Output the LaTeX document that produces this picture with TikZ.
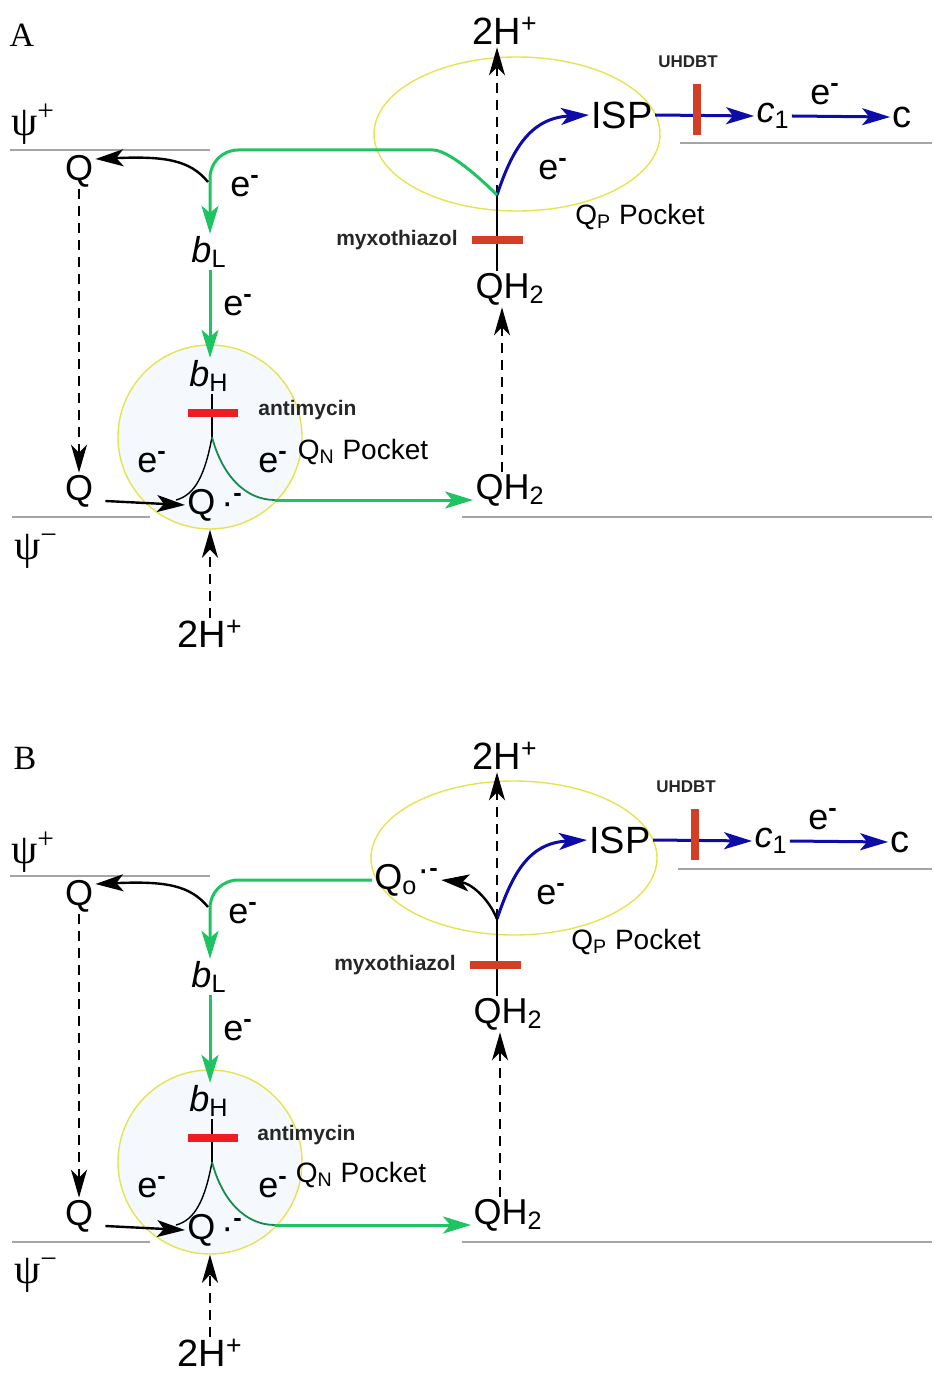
\documentclass[tikz,border=0pt]{standalone}
\usepackage{fontspec}
\setmainfont{Liberation Sans}
\newfontfamily\panelfont{Liberation Serif}
\usetikzlibrary{shapes.geometric, arrows.meta, calc}
\definecolor{ElecGreen}{RGB}{30,196,98}
\definecolor{DeepGreen}{RGB}{22,140,76}
\definecolor{ElecBlue}{RGB}{12,12,168}
\definecolor{AntiRed}{RGB}{236,30,36}
\definecolor{MyxoRed}{RGB}{212,62,36}
\definecolor{PocketYel}{RGB}{228,228,80}
\definecolor{PocketFill}{RGB}{245,248,252}
\definecolor{MembGray}{RGB}{165,165,165}
\newcommand{\supmin}{\textsuperscript{\bfseries -}}

\begin{document}
\begin{tikzpicture}[x=0.5pt, y=-0.5pt,
    lbl/.style={font=\fontsize{18}{20}\selectfont, inner sep=1pt},
    biglbl/.style={font=\fontsize{19}{21}\selectfont, inner sep=1pt},
    pocket/.style={font=\fontsize{14}{16}\selectfont, inner sep=1pt},
    drug/.style={font=\bfseries\fontsize{10.5}{12}\selectfont,
                 text=black!85, inner sep=1pt},
    psi/.style={font=\panelfont\fontsize{21}{23}\selectfont, inner sep=1pt},
    memb/.style={draw=MembGray, line width=0.8pt},
    qpbox/.style={ellipse, draw=PocketYel, line width=0.7pt,
                  minimum width=143pt, minimum height=77pt},
    qnbox/.style={circle, draw=PocketYel, fill=PocketFill,
                  line width=0.7pt, minimum size=92pt},
    karr/.style={-{Stealth[length=14pt, width=8.5pt, inset=3.5pt]},
                 draw=black, line width=1.2pt},
    darr/.style={-{Stealth[length=14pt, width=8pt, inset=4pt]},
                 draw=black, line width=1.1pt, dash pattern=on 5pt off 3.5pt},
    garr/.style={-{Stealth[length=14pt, width=8.5pt, inset=3.5pt]},
                 draw=ElecGreen, line width=1.5pt},
    barr/.style={-{Stealth[length=14pt, width=8.5pt, inset=3.5pt]},
                 draw=ElecBlue, line width=1.5pt},
    gln/.style={draw=DeepGreen, line width=0.9pt},
    thinln/.style={draw=black, line width=0.7pt},
    antibar/.style={draw=AntiRed, line width=4pt},
    myxobar/.style={draw=MyxoRed, line width=4pt}
  ]
  \useasboundingbox (0,0) rectangle (934,1379);

  % ---------------- panel A ----------------
  \begin{scope}
    \node[font=\panelfont\fontsize{17}{19}\selectfont] (panA) at (22,35) {A};
    \node[psi] (psiPA) at (33,124) {ψ\textsuperscript{+}};
    \node[psi] (psiMA) at (36,551) {ψ\textsuperscript{−}};
    \draw[memb] (10,150) -- (210,150);
    \draw[memb] (680,143) -- (932,143);
    \draw[memb] (12,517) -- (150,517);
    \draw[memb] (462,517) -- (932,517);

    \node[qpbox] (qpkA) at (517,134) {};
    \node[qnbox] (qnkA) at (210,437) {};
    \coordinate (vpA) at (497,195);
    \coordinate (vnA) at (212,437);
    \coordinate (ksA) at (208,182);
    \coordinate (tnA) at (275,500);

    \node[lbl] (QtA) at (79,171) {Q};
    \node[lbl] (QbA) at (79,491) {Q};
    \node[lbl, anchor=west] (QrA) at (185,505) {Q\,·\supmin};
    \node[lbl] (eLA) at (245,186) {e\supmin};
    \node[lbl] (bLA) at (209,252) {\textit{b}\textsubscript{L}};
    \node[lbl] (eMA) at (238,305) {e\supmin};
    \node[lbl] (bHA) at (209,376) {\textit{b}\textsubscript{H}};
    \node[drug, anchor=west] (antiA) at (256,410) {antimycin};
    \node[lbl] (eNlA) at (152,462) {e\supmin};
    \node[lbl] (eNrA) at (273,462) {e\supmin};
    \node[pocket] (qnA) at (363,452) {Q\textsubscript{N} Pocket};
    \node[biglbl] (hbA) at (210,634) {2H\textsuperscript{+}};
    \node[lbl] (QHlA) at (510,490) {QH\textsubscript{2}};
    \node[lbl] (QHuA) at (510,289) {QH\textsubscript{2}};
    \node[drug, anchor=east] (myxoA) at (460,240) {myxothiazol};
    \node[biglbl] (htA) at (505,31) {2H\textsuperscript{+}};
    \node[biglbl] (ispA) at (622,115) {ISP};
    \node[lbl] (ePA) at (553,169) {e\supmin};
    \node[pocket] (qpA) at (640,217) {Q\textsubscript{P} Pocket};
    \node[drug, font=\bfseries\fontsize{8.5}{10}\selectfont] (uhA) at (688,62) {UHDBT};
    \node[lbl] (c1A) at (773,116) {\textit{c}\textsubscript{1}};
    \node[lbl] (eCA) at (825,94) {e\supmin};
    \node[biglbl] (cA) at (902,117) {c};

    % Qp site
    \draw[thinln] (QHuA.north -| vpA) -- (vpA);
    \draw[myxobar] (472,240) -- (523,240);
    \draw[darr] (vpA) -- (htA.south -| vpA);
    \draw[barr] (vpA) .. controls (512,150) and (530,118) .. (ispA.west);
    \draw[garr, rounded corners=14pt] (vpA) .. controls (470,168) and (445,150)
          .. (405,150) -- (210,150) -- (bLA.north -| 210,0);
    \draw[karr] (ksA) .. controls (190,160) and (165,156) .. ([yshift=6pt]QtA.east);
    \draw[darr] (QtA) -- (QbA);
    \draw[karr] ([shift={(10,10)}]QbA.east) -- (QrA.west);
    % Qn site
    \draw[garr] (bLA.south -| 210,0) -- (bHA.north -| 210,0);
    \draw[thinln] (bHA.south -| vnA) -- (vnA);
    \draw[antibar] (188,413) -- (238,413);
    \draw[thinln] (vnA) .. controls (205,475) and (195,495) .. (176,500);
    \draw[gln] (vnA) .. controls (222,475) and (245,500) .. (tnA);
    \draw[garr] (tnA) -- ([yshift=-5pt]QHlA.west);
    \draw[darr] (hbA.north) -- (qnkA.south);
    \draw[darr] ([xshift=-4pt]QHlA.north) -- ([xshift=-4pt]QHuA.south);
    % cytochromes
    \draw[barr] (ispA.east) -- (c1A.west);
    \draw[myxobar] (697,84) -- (697,135);
    \draw[barr] (c1A.east) -- (cA.west);
  \end{scope}

  % ---------------- panel B ----------------
  \begin{scope}[shift={(0,725)}]
    \node[font=\panelfont\fontsize{17}{19}\selectfont] (panB) at (25,33) {B};
    \node[psi] (psiPB) at (33,127) {ψ\textsuperscript{+}};
    \node[psi] (psiMB) at (36,550) {ψ\textsuperscript{−}};
    \draw[memb] (10,151) -- (210,151);
    \draw[memb] (678,144) -- (932,144);
    \draw[memb] (12,517) -- (150,517);
    \draw[memb] (462,517) -- (932,517);

    \node[qpbox] (qpkB) at (514,133) {};
    \node[qnbox] (qnkB) at (210,437) {};
    \coordinate (vpB) at (497,194);
    \coordinate (vnB) at (212,437);
    \coordinate (ksB) at (208,182);
    \coordinate (tnB) at (275,500);

    \node[lbl] (QtB) at (79,171) {Q};
    \node[lbl] (QbB) at (79,491) {Q};
    \node[lbl, anchor=west] (QrB) at (185,505) {Q\,·\supmin};
    \node[lbl] (eLB) at (243,188) {e\supmin};
    \node[lbl] (bLB) at (209,252) {\textit{b}\textsubscript{L}};
    \node[lbl] (eMB) at (238,305) {e\supmin};
    \node[lbl] (bHB) at (209,376) {\textit{b}\textsubscript{H}};
    \node[drug, anchor=west] (antiB) at (255,410) {antimycin};
    \node[lbl] (eNlB) at (152,462) {e\supmin};
    \node[lbl] (eNrB) at (273,462) {e\supmin};
    \node[pocket] (qnB) at (361,450) {Q\textsubscript{N} Pocket};
    \node[biglbl] (hbB) at (210,628) {2H\textsuperscript{+}};
    \node[lbl] (QHlB) at (508,490) {QH\textsubscript{2}};
    \node[lbl] (QHuB) at (508,289) {QH\textsubscript{2}};
    \node[drug, anchor=east] (myxoB) at (458,240) {myxothiazol};
    \node[biglbl] (htB) at (505,31) {2H\textsuperscript{+}};
    \node[biglbl] (ispB) at (620,115) {ISP};
    \node[lbl] (ePB) at (551,169) {e\supmin};
    \node[pocket] (qpB) at (636,217) {Q\textsubscript{P} Pocket};
    \node[drug, font=\bfseries\fontsize{8.5}{10}\selectfont] (uhB) at (686,62) {UHDBT};
    \node[lbl] (c1B) at (771,116) {\textit{c}\textsubscript{1}};
    \node[lbl] (eCB) at (823,94) {e\supmin};
    \node[biglbl] (cB) at (900,117) {c};
    \node[lbl, anchor=west] (QoB) at (372,155)
          {Q\textsubscript{o}\raisebox{4pt}{·}\supmin};

    % Qp site
    \draw[thinln] (QHuB.north -| vpB) -- (vpB);
    \draw[myxobar] (470,240) -- (521,240);
    \draw[darr] (vpB) -- (htB.south -| vpB);
    \draw[barr] (vpB) .. controls (512,150) and (528,118) .. (ispB.west);
    \draw[karr] (vpB) .. controls (488,172) and (470,158) .. (QoB.east);
    \draw[garr, rounded corners=14pt] (QoB.west) -- (QoB.west -| 210,0)
          -- (bLB.north -| 210,0);
    \draw[karr] (ksB) .. controls (190,160) and (165,156) .. ([yshift=6pt]QtB.east);
    \draw[darr] (QtB) -- (QbB);
    \draw[karr] ([shift={(10,10)}]QbB.east) -- (QrB.west);
    % Qn site
    \draw[garr] (bLB.south -| 210,0) -- (bHB.north -| 210,0);
    \draw[thinln] (bHB.south -| vnB) -- (vnB);
    \draw[antibar] (188,413) -- (238,413);
    \draw[thinln] (vnB) .. controls (205,475) and (195,495) .. (176,500);
    \draw[gln] (vnB) .. controls (222,475) and (245,500) .. (tnB);
    \draw[garr] (tnB) -- ([yshift=-5pt]QHlB.west);
    \draw[darr] (hbB.north) -- (qnkB.south);
    \draw[darr] ([xshift=-4pt]QHlB.north) -- ([xshift=-4pt]QHuB.south);
    % cytochromes
    \draw[barr] (ispB.east) -- (c1B.west);
    \draw[myxobar] (695,84) -- (695,135);
    \draw[barr] (c1B.east) -- (cB.west);
  \end{scope}
\end{tikzpicture}
\end{document}
